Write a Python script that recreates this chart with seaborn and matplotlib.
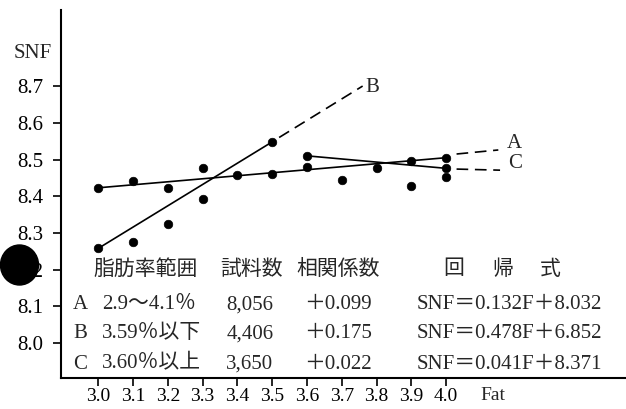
import seaborn as sns
import matplotlib.pyplot as plt
import pandas as pd
from matplotlib.patches import Ellipse

# dots (Fat, SNF)
fat_pts = [3.0, 3.0, 3.1, 3.1, 3.2, 3.2, 3.3, 3.3, 3.4, 3.5, 3.5, 3.6, 3.6,
           3.7, 3.8, 3.9, 3.9, 4.0, 4.0, 4.0]
snf_pts = [8.423, 8.258, 8.442, 8.275, 8.423, 8.325, 8.476, 8.392, 8.458, 8.548, 8.460, 8.510, 8.479,
           8.444, 8.478, 8.496, 8.428, 8.505, 8.476, 8.452]

# regression lines: solid part and dashed extension
line_names = ['A', 'B', 'C']
solid_x = [[3.0, 4.0], [3.0, 3.5], [3.6, 4.0]]
solid_y = [[8.423, 8.505], [8.258, 8.548], [8.510, 8.476]]
dash_x = [[4.03, 4.15], [3.52, 3.76], [4.03, 4.155]]
dash_y = [[8.515, 8.526], [8.560, 8.700], [8.474, 8.471]]
label_xy = [(4.195, 8.544), (3.787, 8.695), (4.197, 8.490)]

x_ticks = [3.0, 3.1, 3.2, 3.3, 3.4, 3.5, 3.6, 3.7, 3.8, 3.9, 4.0]
y_ticks = [8.0, 8.1, 8.2, 8.3, 8.4, 8.5, 8.6, 8.7]

# table inside the plot
tbl_header = ['脂肪率範囲', '試料数', '相関係数']
tbl_formula_head = ['回', '帰', '式']
tbl_key = ['A', 'B', 'C']
tbl_range = ['2.9～4.1％', '3.59％以下', '3.60％以上']
tbl_n = ['8,056', '4,406', '3,650']
tbl_r = ['＋0.099', '＋0.175', '＋0.022']
tbl_eq = ['SNF＝0.132F＋8.032', 'SNF＝0.478F＋6.852', 'SNF＝0.041F＋8.371']

sns.set_theme(style='ticks')
plt.rcParams['font.family'] = ['Liberation Serif', 'Noto Sans CJK JP']
plt.rcParams['axes.unicode_minus'] = False
FS = 15

fig = plt.figure(figsize=(6.26, 4.09), dpi=100)
ax = fig.add_axes([0.098, 0.0765, 0.902, 0.899])

for i, name in enumerate(line_names):
    seg = pd.DataFrame({'x': solid_x[i], 'y': solid_y[i]})
    sns.lineplot(data=seg, x='x', y='y', ax=ax, color='black', lw=1.2, estimator=None, sort=False)
    seg = pd.DataFrame({'x': dash_x[i], 'y': dash_y[i]})
    sns.lineplot(data=seg, x='x', y='y', ax=ax, color='black', lw=1.2, estimator=None, sort=False,
                 dashes=False, linestyle=(0, (7, 4)))
    ax.text(label_xy[i][0], label_xy[i][1], name, fontsize=FS, ha='center', va='center')

dots = pd.DataFrame({'Fat': fat_pts, 'SNF': snf_pts})
sns.scatterplot(data=dots, x='Fat', y='SNF', ax=ax, color='black', s=38, edgecolor='black', zorder=5)

ax.set_xlim(2.894, 4.517)
ax.set_ylim(7.906, 8.907)
ax.set_xticks(x_ticks)
ax.set_xticklabels([f'{v:.1f}' for v in x_ticks])
ax.set_yticks(y_ticks)
ax.set_yticklabels([f'{v:.1f}' for v in y_ticks])
ax.set_xlabel('')
ax.set_ylabel('')
ax.tick_params(axis='both', direction='out', length=6, width=1.2, color='black',
               labelsize=FS, labelcolor='black')
ax.tick_params(axis='x', pad=1.5, labelsize=14)
ax.tick_params(axis='y', pad=7)
sns.despine(ax=ax)
for side in ['left', 'bottom']:
    ax.spines[side].set_linewidth(1.5)
    ax.spines[side].set_color('black')

# table text (axes fractions)
row_y = [0.198, 0.119, 0.037]
head_y = 0.293
for txt, cx in zip(tbl_header, [0.150, 0.336, 0.490]):
    ax.text(cx, head_y, txt, transform=ax.transAxes, fontsize=FS, ha='center', va='center')
for txt, cx in zip(tbl_formula_head, [0.694, 0.781, 0.865]):
    ax.text(cx, head_y, txt, transform=ax.transAxes, fontsize=FS, ha='center', va='center')
for i in range(3):
    ax.text(0.034, row_y[i], tbl_key[i], transform=ax.transAxes, fontsize=FS, ha='center', va='center')
    ax.text(0.072, row_y[i], tbl_range[i], transform=ax.transAxes, fontsize=FS, ha='left', va='center')
    ax.text(0.334, row_y[i], tbl_n[i], transform=ax.transAxes, fontsize=FS, ha='center', va='center')
    ax.text(0.490, row_y[i], tbl_r[i], transform=ax.transAxes, fontsize=FS, ha='center', va='center')
    ax.text(0.794, row_y[i], tbl_eq[i], transform=ax.transAxes, fontsize=FS, ha='center', va='center')

fig.text(0.053, 0.870, 'SNF', fontsize=FS, ha='center', va='center')
fig.text(0.7875, 0.032, 'Fat', fontsize=14, ha='center', va='center')

# black blot on the scan over the 8.2 label
fig.add_artist(Ellipse((19.5 / 626, 1 - 265 / 409), width=38 / 626, height=40 / 409,
                       transform=fig.transFigure, color='black', zorder=10))

fig.savefig('out.png', dpi=100)
